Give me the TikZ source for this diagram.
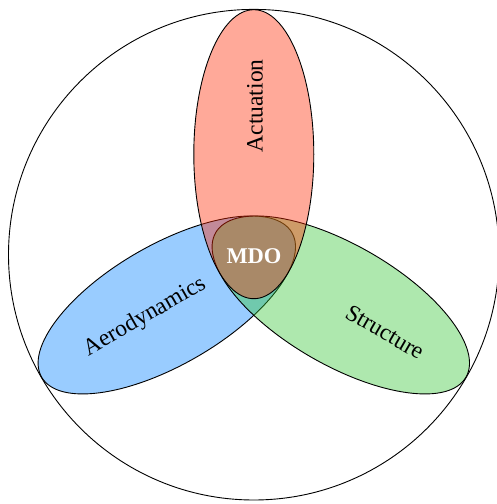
\documentclass[tikz,border=0pt]{standalone}
\usepackage{fontspec}
\setmainfont{Liberation Serif}
\definecolor{actcol}{RGB}{255,40,0}
\definecolor{aerocol}{RGB}{0,128,255}
\definecolor{strcol}{RGB}{52,198,52}
\tikzset{
  discbox/.style={draw=black, line width=0.9pt, fill opacity=0.4},
  lbl/.style={font=\fontsize{23.5}{28}\selectfont, text=black, inner sep=0pt},
  mdolbl/.style={font=\fontsize{22.5}{27}\selectfont\bfseries, text=white, inner sep=0pt}
}
\begin{document}
\begin{tikzpicture}[x=1pt,y=1pt]
\useasboundingbox (0,0) rectangle (497,504);
\coordinate (C) at (253.8,249.3);
\draw[line width=0.9pt] (C) circle[radius=245.3];
% ellipses (blue, green, red order)
\draw[discbox, fill=aerocol] (166.8,199.05) ellipse[x radius=144.5, y radius=60, rotate=30];
\draw[discbox, fill=strcol] (340.8,199.05) ellipse[x radius=144.5, y radius=60, rotate=-30];
\draw[discbox, fill=actcol] (253.8,349.8) ellipse[x radius=60, y radius=144.5];
% labels
\node[lbl, rotate=90] (act) at (255,398.2) {Actuation};
\node[lbl, rotate=30] (aero) at (145,187) {Aerodynamics};
\node[lbl, rotate=-30] (str) at (385,172) {Structure};
\node[mdolbl] (mdo) at (254,247.5) {MDO};
\end{tikzpicture}
\end{document}
